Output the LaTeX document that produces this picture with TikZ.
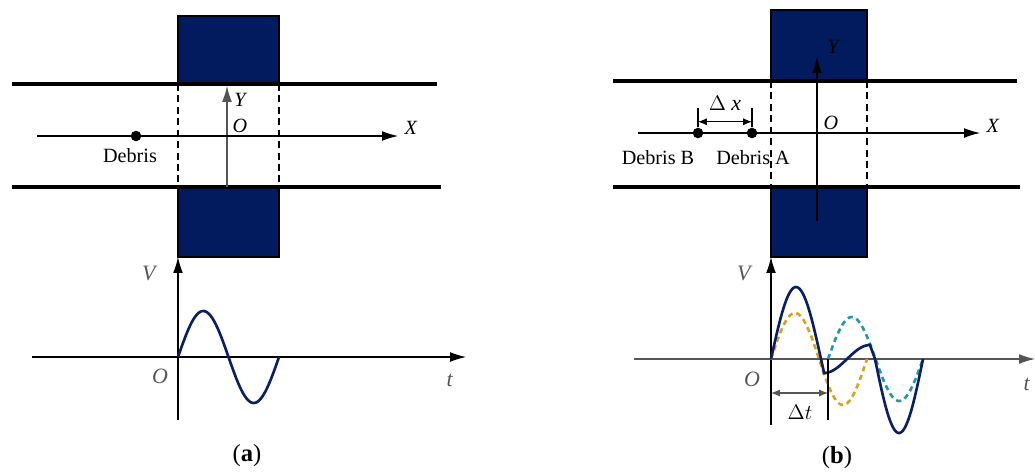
\documentclass[tikz,border=0pt]{standalone}
\usepackage{fontspec}
\setmainfont{Liberation Serif}
\usetikzlibrary{arrows.meta,positioning,calc}

\definecolor{coilblue}{RGB}{2,27,94}
\definecolor{waveblue}{RGB}{8,30,102}
\definecolor{dashorange}{RGB}{218,160,30}
\definecolor{dashteal}{RGB}{30,152,170}
\definecolor{axisgray}{RGB}{85,85,85}

\begin{document}
\begin{tikzpicture}[x=0.02cm, y=-0.02cm,
    coil/.style={draw=black, fill=coilblue, line width=0.6pt},
    pipe/.style={line width=1.8pt},
    guide/.style={line width=0.6pt, dash pattern=on 4pt off 2.5pt},
    axis/.style={-{Latex[length=9pt,width=5.5pt]}, line width=0.6pt},
    dimline/.style={{Latex[length=5pt,width=4pt]}-{Latex[length=5pt,width=4pt]}, line width=0.6pt},
    dot/.style={circle, fill=black, inner sep=0pt, minimum size=6pt},
    lbl/.style={inner sep=0pt, font=\fontsize{11.5}{13}\selectfont},
    plotlbl/.style={lbl, text=axisgray, font=\fontsize{12.5}{14}\selectfont},
    caption/.style={inner sep=0pt, font=\fontsize{14}{16}\selectfont},
    wave/.style={draw=waveblue, line width=1.5pt},
    ghost/.style={line width=1.5pt, dash pattern=on 3pt off 2.2pt}
]
\useasboundingbox (0,0) rectangle (1035,471);

% ---- (a) sensor ----
\draw[coil] (178,16) rectangle (279,84);
\draw[coil] (178,187) rectangle (279,257);
\draw[pipe] (12,84) -- (437,84);
\draw[pipe] (12,187) -- (441,187);
\draw[guide] (178,84) -- (178,187);
\draw[guide] (279,84) -- (279,187);

\coordinate (aYs) at (227,187);
\coordinate (aYe) at (227,86);
\coordinate (aXs) at (37,136);
\coordinate (aXe) at (398,136);
\draw[axis, draw=axisgray] (aYs) -- (aYe);
\draw[axis] (aXs) -- (aXe);
\node[dot] (adeb) at (136,136) {};

\node[lbl] (aY) at (241,100) {\textit{Y}};
\node[lbl] (aO) at (240,126) {\textit{O}};
\node[lbl] (aX) at (411,128) {\textit{X}};
\node[lbl] (adebl) at (130,156) {Debris};

% ---- (a) signal ----
\coordinate (aVs) at (178,420);
\coordinate (aVe) at (178,257);
\coordinate (ats) at (32,357);
\coordinate (ate) at (466,357);
\draw[axis] (aVs) -- (aVe);
\draw[axis] (ats) -- (ate);
\draw[wave] plot[domain=178:279, samples=60] (\x,{357-46*sin(360/101*(\x-178))});

\node[plotlbl] (aV) at (150,273) {\textit{V}};
\node[plotlbl] (aO2) at (160,376) {\textit{O}};
\node[plotlbl] (at) at (450,380) {\textit{t}};
\node[caption] (acap) at (247,456) {(\textbf{a})};

% ---- (b) sensor ----
\draw[coil] (771,10) rectangle (867,81);
\draw[coil] (771,187) rectangle (867,257);
\draw[pipe] (613,81) -- (1017,81);
\draw[pipe] (613,187) -- (1020,187);
\draw[guide] (771,81) -- (771,187);
\draw[guide] (867,81) -- (867,187);

\coordinate (bYs) at (817,221);
\coordinate (bYe) at (817,57);
\coordinate (bXs) at (638,133);
\coordinate (bXe) at (980,133);
\draw[axis] (bYs) -- (bYe);
\draw[axis] (bXs) -- (bXe);
\node[dot] (debB) at (698,133) {};
\node[dot] (debA) at (752,133) {};
\draw[line width=0.6pt] (debB) -- ++(0,-25) coordinate (tickB);
\draw[line width=0.6pt] (debA) -- ++(0,-25) coordinate (tickA);
\draw[dimline] ($(tickB)!0.55!(debB)$) -- ($(tickA)!0.55!(debA)$);

\node[lbl] (bY) at (834,47) {\textit{Y}};
\node[lbl] (bO) at (831,123) {\textit{O}};
\node[lbl] (bX) at (993,126) {\textit{X}};
\node[lbl, font=\fontsize{12.5}{14}\selectfont] (dx) at (725,103) {$\Delta$ \textit{x}};
\node[lbl] (debBl) at (658,158) {Debris B};
\node[lbl] (debAl) at (753,158) {Debris A};

% ---- (b) signal ----
\coordinate (bVs) at (771,425);
\coordinate (bVe) at (771,257);
\coordinate (bts) at (634,359);
\coordinate (bte) at (1035,359);
\draw[axis] (bVs) -- (bVe);
\draw[axis, draw=axisgray] (bts) -- (bte);
\draw[ghost, draw=dashorange] plot[domain=771:867, samples=60] (\x,{359-46*sin(360/96*(\x-771))});
\draw[ghost, draw=dashteal] plot[domain=828:923, samples=60] (\x,{359-42*sin(360/95*(\x-828))});
\draw[wave] plot[domain=771:824, samples=40] (\x,{359-72*sin(3.6*(\x-771))})
  -- plot[domain=824:870, samples=30] (\x,{359+14*cos(3.913*(\x-824))})
  -- plot[domain=875:923, samples=40] (\x,{359+74*sin(3.75*(\x-875))});

\coordinate (dtTop) at (828,359);
\coordinate (dtBot) at (828,420);
\draw[line width=0.6pt] (dtTop) -- (dtBot);
\draw[dimline, draw=axisgray] (771,393) -- (dtTop |- 0,393);

\node[plotlbl] (bV) at (745,273) {\textit{V}};
\node[plotlbl] (bO2) at (752,379) {\textit{O}};
\node[plotlbl] (bt) at (1027,384) {\textit{t}};
\node[lbl, font=\fontsize{12.5}{14}\selectfont] (dt) at (800,412) {$\Delta t$};
\node[caption] (bcap) at (837,458) {(\textbf{b})};
\end{tikzpicture}
\end{document}
